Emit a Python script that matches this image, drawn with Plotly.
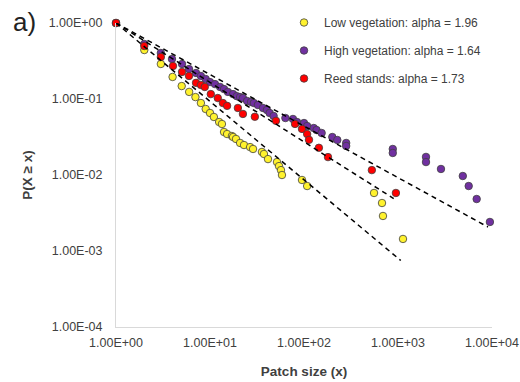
import plotly.graph_objects as go

# ---- data ----
low_x = [1, 2, 3.0, 4.0, 5.0, 6.0, 7.0, 8.0, 9.0, 10.0, 11.0, 12.5, 13.4, 14.1, 15.2, 17.1, 17.6,
         18.9, 20.9, 23.0, 26.7, 28.7, 35.7, 37.5, 41.4, 51.6, 54.2, 56.9, 58.3, 95.2, 108,
         556, 676, 692, 1130]
low_y = [1, 0.441, 0.289, 0.195, 0.148, 0.124, 0.106, 0.0886, 0.0739, 0.0655, 0.058, 0.0498,
         0.0469, 0.0368, 0.0346, 0.0326, 0.0316, 0.0298, 0.0264, 0.0248, 0.0233, 0.022, 0.0201,
         0.0189, 0.0162, 0.0148, 0.0131, 0.0116, 0.01, 0.0086, 0.00716, 0.0058, 0.00428,
         0.00289, 0.00144]

high_x = [1, 2, 3.0, 3.94, 5.04, 5.98, 7.1, 8.0, 9.0, 10.0, 11.3, 12.8, 14.1, 15.5, 17.6, 19.3,
          20.9, 22.4, 24.8, 27.3, 29.3, 32.3, 36.6, 40.3, 43.1, 47.5, 63.4, 76.3, 84.2, 100,
          108, 127, 136, 154, 200, 226, 281, 281, 880, 880, 1985, 1985, 2865, 4890, 5650,
          6870, 9500]
high_y = [1, 0.529, 0.403, 0.336, 0.289, 0.248, 0.220, 0.201, 0.183, 0.167, 0.157, 0.144, 0.135,
          0.124, 0.116, 0.109, 0.106, 0.103, 0.0942, 0.0914, 0.0886, 0.0834, 0.0762, 0.0717,
          0.0655, 0.0598, 0.0562, 0.0546, 0.0498, 0.0483, 0.0441, 0.0415, 0.0391, 0.0357,
          0.0316, 0.0289, 0.0264, 0.0241, 0.022, 0.0195, 0.0173, 0.0148, 0.012, 0.0097,
          0.00716, 0.00483, 0.00241]

reed_x = [1, 2, 3.0, 4.04, 5.04, 5.98, 7.1, 8.0, 8.8, 10.2, 12.1, 13.7, 15.2, 19.8, 22.4, 30.0,
          50.3, 80.3, 95.2, 108, 113, 144, 180, 527, 950]
reed_y = [1, 0.498, 0.357, 0.272, 0.227, 0.201, 0.163, 0.153, 0.144, 0.116, 0.103, 0.0886,
          0.0812, 0.0762, 0.0636, 0.0584, 0.0516, 0.0470, 0.0404, 0.0346, 0.0290, 0.0228,
          0.0172, 0.0116, 0.0058]

# fitted power-law lines (start, end)
low_fit_x = [1, 1070]
low_fit_y = [1, 0.00075]
high_fit_x = [1, 9060]
high_fit_y = [1, 0.00207]
reed_fit_x = [1, 900]
reed_fit_y = [1, 0.0049]

names = ["Low vegetation: alpha = 1.96", "High vegetation: alpha = 1.64",
         "Reed stands: alpha = 1.73"]
x_ticks = [1, 10, 100, 1000, 10000]
x_tick_text = ["1.00E+00", "1.00E+01", "1.00E+02", "1.00E+03", "1.00E+04"]
y_ticks = [1, 0.1, 0.01, 0.001, 0.0001]
y_tick_text = ["1.00E+00", "1.00E-01", "1.00E-02", "1.00E-03", "1.00E-04"]

colors = ["#FFF22E", "#7030A0", "#FF0000"]
FONT = "Liberation Sans, Arial, sans-serif"

fig = go.Figure()
series = [(low_x, low_y), (high_x, high_y), (reed_x, reed_y)]
for i, ((xs, ys), nm, c) in enumerate(zip(series, names, colors)):
    fig.add_trace(go.Scatter(
        x=xs, y=ys, mode="markers", name=nm, legendgroup=str(i),
        cliponaxis=False,
        marker=dict(size=7.5, color=c, line=dict(color="#404040", width=0.8)),
    ))
for fx, fy in [(low_fit_x, low_fit_y), (high_fit_x, high_fit_y), (reed_fit_x, reed_fit_y)]:
    fig.add_trace(go.Scatter(
        x=fx, y=fy, mode="lines", showlegend=False, cliponaxis=False,
        line=dict(color="black", width=1.5, dash="5px,4px"),
    ))

W, H = 520, 382
L, R, T, B = 116, 28, 23, 55
pw, ph = W - L - R, H - T - B

fig.update_layout(
    width=W, height=H,
    margin=dict(l=L, r=R, t=T, b=B, autoexpand=False),
    paper_bgcolor="white", plot_bgcolor="white",
    font=dict(family=FONT, size=11, color="#404040"),
    showlegend=True,
    legend=dict(
        x=284 / W, y=1 - 8 / H, xref="container", yref="container",
        xanchor="left", yanchor="top",
        bgcolor="rgba(0,0,0,0)", font=dict(size=12, color="#404040"),
        tracegroupgap=9, itemsizing="trace",
    ),
    xaxis=dict(
        type="log", range=[0, 4], showgrid=False, zeroline=False, automargin=False,
        showline=True, linecolor="#D9D9D9", linewidth=1,
        tickvals=x_ticks, ticktext=x_tick_text,
        ticks="outside", ticklen=4, tickcolor="rgba(0,0,0,0)",
        tickfont=dict(size=12.5, color="#404040"),
        title=dict(text="<b>Patch size (x)</b>", font=dict(size=13.5, color="#404040"), standoff=17),
    ),
    yaxis=dict(
        type="log", range=[-4, 0], showgrid=False, zeroline=False, automargin=False,
        showline=True, linecolor="#D9D9D9", linewidth=1,
        tickvals=y_ticks, ticktext=y_tick_text,
        ticks="outside", ticklen=10, tickcolor="rgba(0,0,0,0)",
        tickfont=dict(size=12.5, color="#404040"),
        title=dict(text="<b>P(X ≥ x)</b>", font=dict(size=13.5, color="#404040"), standoff=12),
    ),
    annotations=[dict(text="a)", x=(11 - L) / pw, y=1 + (T - 22) / ph,
                      xref="paper", yref="paper", showarrow=False,
                      font=dict(size=26, color="#222222"), xanchor="left", yanchor="middle")],
)
fig.write_html("out.html", config={"displayModeBar": False},
               post_script="document.body.style.margin='0';document.body.style.padding='0';")
